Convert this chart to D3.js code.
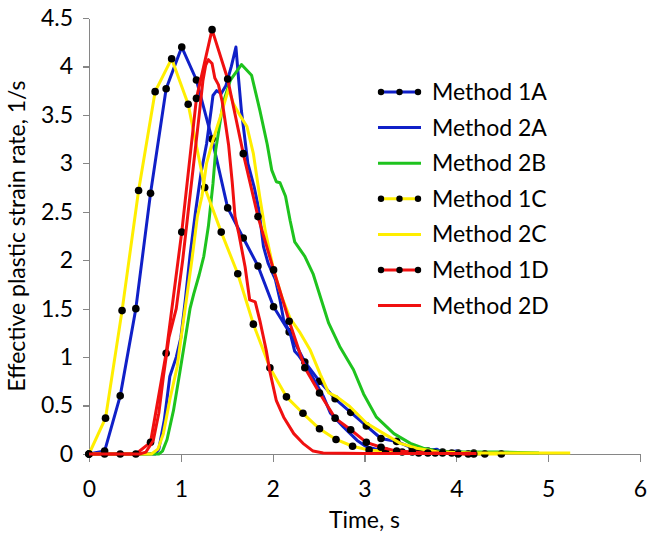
<!DOCTYPE html>
<meta charset="utf-8">
<style>
body { margin: 0; background: #fff; }
text { font-family: Lato, "Open Sans", sans-serif; fill: #000; }
.axis path, .axis line { stroke: #868686; stroke-width: 1.3; shape-rendering: crispEdges; }
</style>
<body>
<svg id="chart" width="649" height="534"></svg>
<script src="https://cdn.jsdelivr.net/npm/d3@7"></script>
<script>

// [time (s), effective plastic strain rate (1/s)]
var method1A = [[0,0],[0.17,0.03],[0.34,0.6],[0.51,1.5],[0.67,2.69],[0.84,3.77],[1.01,4.2],[1.17,3.86],[1.34,3.25],[1.51,2.54],[1.68,2.23],[1.84,1.94],[2.01,1.52],[2.18,1.26],[2.35,0.95],[2.51,0.75],[2.68,0.57],[2.85,0.43],[3.02,0.29],[3.18,0.16],[3.35,0.13],[3.52,0.06],[3.69,0.03],[3.85,0.02],[4.02,0.01],[4.19,0.01]];

var method2A = [[0,0],[0.72,0],[0.76,0.05],[0.82,0.35],[0.88,0.8],[0.95,1.0],[1.0,1.2],[1.05,1.6],[1.1,2.05],[1.16,2.5],[1.22,2.9],[1.28,3.2],[1.33,3.55],[1.35,3.7],[1.39,3.75],[1.44,3.72],[1.49,3.8],[1.55,4.0],[1.6,4.2],[1.63,3.86],[1.66,3.54],[1.7,3.23],[1.73,3.0],[1.75,2.93],[1.8,2.75],[1.85,2.52],[1.9,2.14],[1.95,1.97],[2.03,1.8],[2.08,1.59],[2.12,1.38],[2.19,1.25],[2.24,1.06],[2.28,1.02],[2.37,0.9],[2.46,0.75],[2.55,0.6],[2.63,0.42],[2.77,0.28],[2.92,0.14],[3.02,0.075],[3.21,0.03],[3.5,0.02],[3.79,0.05],[3.85,0.01],[4.0,0.03],[4.1,0.01],[4.3,0]];

var method2B = [[0,0],[0.76,0],[0.8,0.03],[0.85,0.15],[0.92,0.45],[0.99,0.85],[1.05,1.2],[1.1,1.5],[1.14,1.65],[1.2,1.85],[1.25,2.04],[1.3,2.35],[1.35,2.79],[1.38,3.14],[1.46,3.62],[1.54,3.86],[1.66,4.02],[1.77,3.91],[1.86,3.55],[1.94,3.2],[1.99,2.93],[2.04,2.81],[2.08,2.8],[2.14,2.66],[2.19,2.41],[2.24,2.19],[2.35,2.04],[2.44,1.86],[2.53,1.59],[2.61,1.35],[2.73,1.11],[2.88,0.87],[2.99,0.62],[3.13,0.38],[3.32,0.21],[3.5,0.11],[3.64,0.06],[3.8,0.03],[4.0,0.02],[4.5,0.02],[4.9,0.01]];

var method1C = [[0,0],[0.18,0.37],[0.36,1.48],[0.54,2.72],[0.72,3.74],[0.9,4.08],[1.08,3.61],[1.26,2.75],[1.44,2.29],[1.62,1.86],[1.79,1.34],[1.97,0.89],[2.15,0.59],[2.33,0.42],[2.51,0.26],[2.69,0.15],[2.87,0.08],[3.05,0.04],[3.23,0.03],[3.41,0.02],[3.59,0.01],[3.77,0.01],[3.95,0.01],[4.13,0],[4.31,0],[4.49,0]];

var method2C = [[0,0],[0.68,0],[0.75,0.05],[0.81,0.21],[0.88,0.56],[0.96,0.9],[1.01,1.25],[1.06,1.59],[1.12,2.0],[1.18,2.45],[1.23,2.66],[1.28,3.0],[1.35,3.24],[1.43,3.48],[1.52,3.77],[1.57,3.62],[1.64,3.5],[1.72,3.38],[1.79,3.1],[1.86,2.65],[1.92,2.3],[2.01,1.9],[2.1,1.62],[2.19,1.4],[2.3,1.25],[2.41,1.07],[2.52,0.82],[2.61,0.63],[2.7,0.59],[2.84,0.49],[3.02,0.32],[3.21,0.21],[3.39,0.11],[3.57,0.06],[3.8,0.02],[4.2,0.01],[5.24,0.01]];

var method1D = [[0,0],[0.17,0],[0.34,0],[0.51,0],[0.67,0.12],[0.84,1.04],[1.01,2.29],[1.17,3.67],[1.34,4.38],[1.51,3.87],[1.68,3.1],[1.84,2.45],[2.01,1.9],[2.18,1.37],[2.35,0.89],[2.51,0.63],[2.68,0.37],[2.85,0.25],[3.02,0.12],[3.18,0.07],[3.35,0.03],[3.52,0.02],[3.69,0.01],[3.85,0.01],[4.02,0],[4.19,0]];

var method2D = [[0,0],[0.55,0],[0.62,0.02],[0.7,0.14],[0.76,0.42],[0.81,0.8],[0.87,1.2],[0.95,1.5],[1.02,2.0],[1.08,2.5],[1.14,3.0],[1.2,3.5],[1.24,3.85],[1.27,4.01],[1.3,4.07],[1.34,4.03],[1.37,3.88],[1.41,3.81],[1.45,3.64],[1.48,3.45],[1.52,3.19],[1.56,2.8],[1.59,2.45],[1.63,2.28],[1.7,1.93],[1.75,1.59],[1.81,1.57],[1.86,1.38],[1.93,1.07],[1.97,0.85],[2.04,0.55],[2.12,0.38],[2.23,0.21],[2.33,0.11],[2.44,0.03],[2.55,0.01],[3,0.005],[4.22,0.005]];

var seriesNames = ["Method 1A", "Method 2A", "Method 2B", "Method 1C", "Method 2C", "Method 1D", "Method 2D"];
var xTicks = [0, 1, 2, 3, 4, 5, 6];
var yTicks = [0, 0.5, 1, 1.5, 2, 2.5, 3, 3.5, 4, 4.5];

var series = [
  {name: seriesNames[0], data: method1A, color: "#1020c8", dots: true},
  {name: seriesNames[1], data: method2A, color: "#1020c8", dots: false},
  {name: seriesNames[2], data: method2B, color: "#1ec31e", dots: false},
  {name: seriesNames[3], data: method1C, color: "#ffee00", dots: true},
  {name: seriesNames[4], data: method2C, color: "#ffee00", dots: false},
  {name: seriesNames[5], data: method1D, color: "#f01010", dots: true},
  {name: seriesNames[6], data: method2D, color: "#f01010", dots: false}
];

var margin = {top: 18, right: 9, bottom: 80, left: 89},
    width = 649 - margin.left - margin.right,
    height = 534 - margin.top - margin.bottom;

var svg = d3.select("#chart")
  .append("g")
    .attr("transform", "translate(" + margin.left + "," + margin.top + ")");

var x = d3.scaleLinear().domain([0, 6]).range([0, width]);
var y = d3.scaleLinear().domain([0, 4.5]).range([height, 0]);

// axes
svg.append("g")
    .attr("class", "axis")
    .attr("transform", "translate(0," + height + ")")
    .call(d3.axisBottom(x).tickValues(xTicks).tickSize(8).tickSizeOuter(0).tickPadding(19).tickFormat(d3.format("d")));

svg.append("g")
    .attr("class", "axis")
    .call(d3.axisLeft(y).tickValues(yTicks).tickSize(6).tickSizeOuter(0).tickPadding(10).tickFormat(d => d));

svg.selectAll(".axis text").style("font-size", "23px").style("font-family", "Lato, sans-serif");

svg.append("text")
    .attr("x", width / 2)
    .attr("y", height + 74)
    .attr("text-anchor", "middle")
    .style("font-size", "23px")
    .text("Time, s");

svg.append("text")
    .attr("transform", "translate(" + (-64) + "," + (height / 2) + ") rotate(-90)")
    .attr("text-anchor", "middle")
    .style("font-size", "23px")
    .text("Effective plastic strain rate, 1/s");

// lines
var line = d3.line()
    .x(d => x(d[0]))
    .y(d => y(d[1]));

series.forEach(function(s) {
  var g = svg.append("g").attr("class", "serie");
  g.append("path")
      .datum(s.data)
      .attr("fill", "none")
      .attr("stroke", s.color)
      .attr("stroke-width", 3)
      .attr("stroke-linejoin", "round")
      .attr("d", line);
  if (s.dots) {
    g.selectAll("circle")
        .data(s.data)
      .enter().append("circle")
        .attr("cx", d => x(d[0]))
        .attr("cy", d => y(d[1]))
        .attr("r", 3.8)
        .attr("fill", "#000");
  }
});

// legend
var legend = svg.selectAll(".legend")
    .data(series)
  .enter().append("g")
    .attr("class", "legend")
    .attr("transform", (d, i) => "translate(" + (378 - margin.left) + "," + (92 - margin.top + i * 35.6) + ")");

legend.append("line")
    .attr("x1", 0)
    .attr("x2", 43)
    .attr("stroke", d => d.color)
    .attr("stroke-width", 3);

legend.filter(d => d.dots).selectAll("circle")
    .data([3, 21.5, 40])
  .enter().append("circle")
    .attr("cx", d => d)
    .attr("r", 3.2)
    .attr("fill", "#000");

legend.append("text")
    .attr("x", 54)
    .attr("dy", "0.35em")
    .style("font-size", "23px")
    .text(d => d.name);

</script>
